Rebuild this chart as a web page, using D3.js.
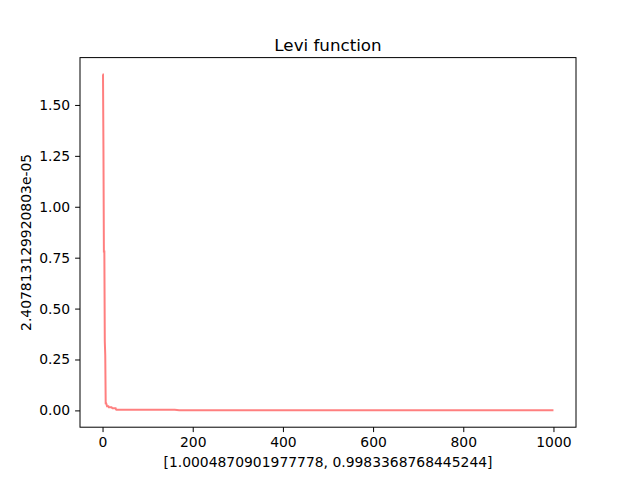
<!DOCTYPE html><html><head><script src="https://d3js.org/d3.v7.min.js"></script>
<style>body{margin:0}text{font-family:"DejaVu Sans"}</style></head><body><svg width="640" height="480"></svg><script>
const iters=[0,1,2,3,4,5,6,7,8,10,11,13,14,20,22,29,30,31,32,33,60,100,160,170,300,500,700,1000];
const vals=[1.65,1.65,1.28,0.78,0.78,0.34,0.27,0.035,0.035,0.02,0.02,0.02,0.015,0.015,0.01,0.01,0.004,0.003,0.003,0.003,0.003,0.003,0.003,0.001,0.001,0.001,0.001,0.001];
const xTicks=[0,200,400,600,800,1000], yTicks=[0,0.25,0.5,0.75,1,1.25,1.5];
const svg=d3.select("svg");
const L=80,R=576,T=57.6,B=427.2;
const x=d3.scaleLinear().domain([-50,1050]).range([L,R]);
const y=d3.scaleLinear().domain([-0.0825,1.7325]).range([B,T]);
svg.append("path").datum(iters.map((d,i)=>[d,vals[i]])).attr("d",d3.line().x(d=>x(d[0])).y(d=>y(d[1])))
 .attr("fill","none").attr("stroke","#ff0000").attr("stroke-opacity",0.5).attr("stroke-width",2);
svg.append("rect").attr("x",L).attr("y",T).attr("width",R-L).attr("height",B-T).attr("fill","none").attr("stroke","#000").attr("stroke-width",1);
const gx=svg.append("g").attr("transform",`translate(0,${B})`).call(d3.axisBottom(x).tickValues(xTicks).tickFormat(d3.format("d")).tickSize(4.9).tickPadding(4.9));
const gy=svg.append("g").attr("transform",`translate(${L},0)`).call(d3.axisLeft(y).tickValues(yTicks).tickFormat(d3.format(".2f")).tickSize(4.9).tickPadding(4.9));
[gx,gy].forEach(g=>{g.select(".domain").remove();g.selectAll("text").attr("font-size",13.9).attr("fill","#000").style("font-family","DejaVu Sans");g.selectAll("line").attr("stroke","#000").attr("stroke-width",1);});
svg.append("text").attr("x",(L+R)/2).attr("y",T-7).attr("text-anchor","middle").attr("font-size",16.7).text("Levi function");
svg.append("text").attr("x",(L+R)/2).attr("y",467).attr("text-anchor","middle").attr("font-size",13.9).text("[1.0004870901977778, 0.9983368768445244]");
svg.append("text").attr("transform",`translate(31,${(T+B)/2}) rotate(-90)`).attr("text-anchor","middle").attr("font-size",13.9).text("2.407813129920803e-05");
</script></body></html>
